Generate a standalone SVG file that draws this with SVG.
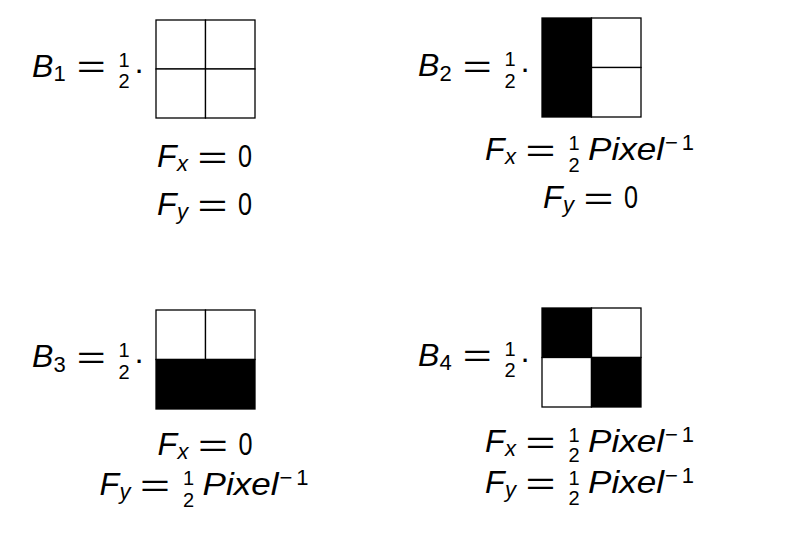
<svg xmlns="http://www.w3.org/2000/svg" width="788" height="537" viewBox="0 0 788 537">
<style>
text{font-family:"Liberation Sans",Arial,sans-serif;fill:#000}
.m{font-size:32px}
.i{font-style:italic}
.s{font-size:22px}
.f{font-size:20px;text-anchor:middle}
.d{font-size:32px;text-anchor:middle}
.cell{fill:#fff;stroke:#000;stroke-width:1.3}
.blk{fill:#000;stroke:#000;stroke-width:1.3}
</style>
<rect width="788" height="537" fill="#fff"/>

<g id="B1">
<text class="m i" x="32" y="76.5">B</text>
<text class="s" x="53.5" y="81">1</text>
<text class="m" x="76.7" y="77" textLength="29" lengthAdjust="spacingAndGlyphs">=</text>
<text class="f" x="124" y="66.5">1</text>
<text class="f" x="124" y="88">2</text>
<text class="d" x="139" y="79.5">·</text>
<rect class="cell" x="156" y="20" width="49.5" height="49"/>
<rect class="cell" x="205.5" y="20" width="49.5" height="49"/>
<rect class="cell" x="156" y="69" width="49.5" height="49"/>
<rect class="cell" x="205.5" y="69" width="49.5" height="49"/>
<text class="m i" x="157" y="167">F</text>
<text class="s i" x="177" y="170.5">x</text>
<text class="m" x="197.6" y="167.5" textLength="30" lengthAdjust="spacingAndGlyphs">=</text>
<text class="m" x="238" y="167" textLength="14" lengthAdjust="spacingAndGlyphs">0</text>
<text class="m i" x="157" y="215">F</text>
<text class="s i" x="177" y="218.5">y</text>
<text class="m" x="197.6" y="215.5" textLength="30" lengthAdjust="spacingAndGlyphs">=</text>
<text class="m" x="238" y="215" textLength="14" lengthAdjust="spacingAndGlyphs">0</text>
</g>

<g id="B2">
<text class="m i" x="418" y="76">B</text>
<text class="s" x="439.5" y="80.5">2</text>
<text class="m" x="462.7" y="76.5" textLength="29" lengthAdjust="spacingAndGlyphs">=</text>
<text class="f" x="510" y="66">1</text>
<text class="f" x="510" y="87.5">2</text>
<text class="d" x="525" y="79">·</text>
<rect class="blk" x="542" y="18" width="49.5" height="99"/>
<rect class="cell" x="591.5" y="18" width="49.5" height="49.5"/>
<rect class="cell" x="591.5" y="67.5" width="49.5" height="49.5"/>
<text class="m i" x="485" y="160">F</text>
<text class="s i" x="505" y="163.5">x</text>
<text class="m" x="525.6" y="160.5" textLength="30" lengthAdjust="spacingAndGlyphs">=</text>
<text class="f" x="574" y="150">1</text>
<text class="f" x="574" y="171.5">2</text>
<text class="m i" x="588" y="160" textLength="76" lengthAdjust="spacingAndGlyphs">Pixel</text>
<text class="s" x="665" y="150" textLength="29" lengthAdjust="spacing">−1</text>
<text class="m i" x="543" y="208">F</text>
<text class="s i" x="563" y="211.5">y</text>
<text class="m" x="583.6" y="208.5" textLength="30" lengthAdjust="spacingAndGlyphs">=</text>
<text class="m" x="624" y="208" textLength="14" lengthAdjust="spacingAndGlyphs">0</text>
</g>

<g id="B3">
<text class="m i" x="32" y="367">B</text>
<text class="s" x="53.5" y="371.5">3</text>
<text class="m" x="76.7" y="367.5" textLength="29" lengthAdjust="spacingAndGlyphs">=</text>
<text class="f" x="124" y="357">1</text>
<text class="f" x="124" y="378.5">2</text>
<text class="d" x="139" y="370">·</text>
<rect class="cell" x="156" y="310" width="49.5" height="49.5"/>
<rect class="cell" x="205.5" y="310" width="49.5" height="49.5"/>
<rect class="blk" x="156" y="359.5" width="99" height="49.5"/>
<text class="m i" x="157.5" y="455">F</text>
<text class="s i" x="177.5" y="458.5">x</text>
<text class="m" x="198.1" y="455.5" textLength="30" lengthAdjust="spacingAndGlyphs">=</text>
<text class="m" x="238.5" y="455" textLength="14" lengthAdjust="spacingAndGlyphs">0</text>
<text class="m i" x="99.5" y="495">F</text>
<text class="s i" x="119.5" y="498.5">y</text>
<text class="m" x="140.1" y="495.5" textLength="30" lengthAdjust="spacingAndGlyphs">=</text>
<text class="f" x="188.5" y="485">1</text>
<text class="f" x="188.5" y="506.5">2</text>
<text class="m i" x="202.5" y="495" textLength="76" lengthAdjust="spacingAndGlyphs">Pixel</text>
<text class="s" x="279.5" y="485" textLength="29" lengthAdjust="spacing">−1</text>
</g>

<g id="B4">
<text class="m i" x="418" y="365.5">B</text>
<text class="s" x="439.5" y="370">4</text>
<text class="m" x="462.7" y="366" textLength="29" lengthAdjust="spacingAndGlyphs">=</text>
<text class="f" x="510" y="355.5">1</text>
<text class="f" x="510" y="377">2</text>
<text class="d" x="525" y="368.5">·</text>
<rect class="blk" x="542" y="308" width="49.5" height="49.5"/>
<rect class="cell" x="591.5" y="308" width="49.5" height="49.5"/>
<rect class="cell" x="542" y="357.5" width="49.5" height="49.5"/>
<rect class="blk" x="591.5" y="357.5" width="49.5" height="49.5"/>
<text class="m i" x="485" y="452">F</text>
<text class="s i" x="505" y="455.5">x</text>
<text class="m" x="525.6" y="452.5" textLength="30" lengthAdjust="spacingAndGlyphs">=</text>
<text class="f" x="574" y="442">1</text>
<text class="f" x="574" y="462">2</text>
<text class="m i" x="588" y="452" textLength="76" lengthAdjust="spacingAndGlyphs">Pixel</text>
<text class="s" x="665" y="442" textLength="29" lengthAdjust="spacing">−1</text>
<text class="m i" x="485" y="493">F</text>
<text class="s i" x="505" y="496.5">y</text>
<text class="m" x="525.6" y="493.5" textLength="30" lengthAdjust="spacingAndGlyphs">=</text>
<text class="f" x="574" y="484.5">1</text>
<text class="f" x="574" y="505">2</text>
<text class="m i" x="588" y="493" textLength="76" lengthAdjust="spacingAndGlyphs">Pixel</text>
<text class="s" x="665" y="483" textLength="29" lengthAdjust="spacing">−1</text>
</g>
</svg>
